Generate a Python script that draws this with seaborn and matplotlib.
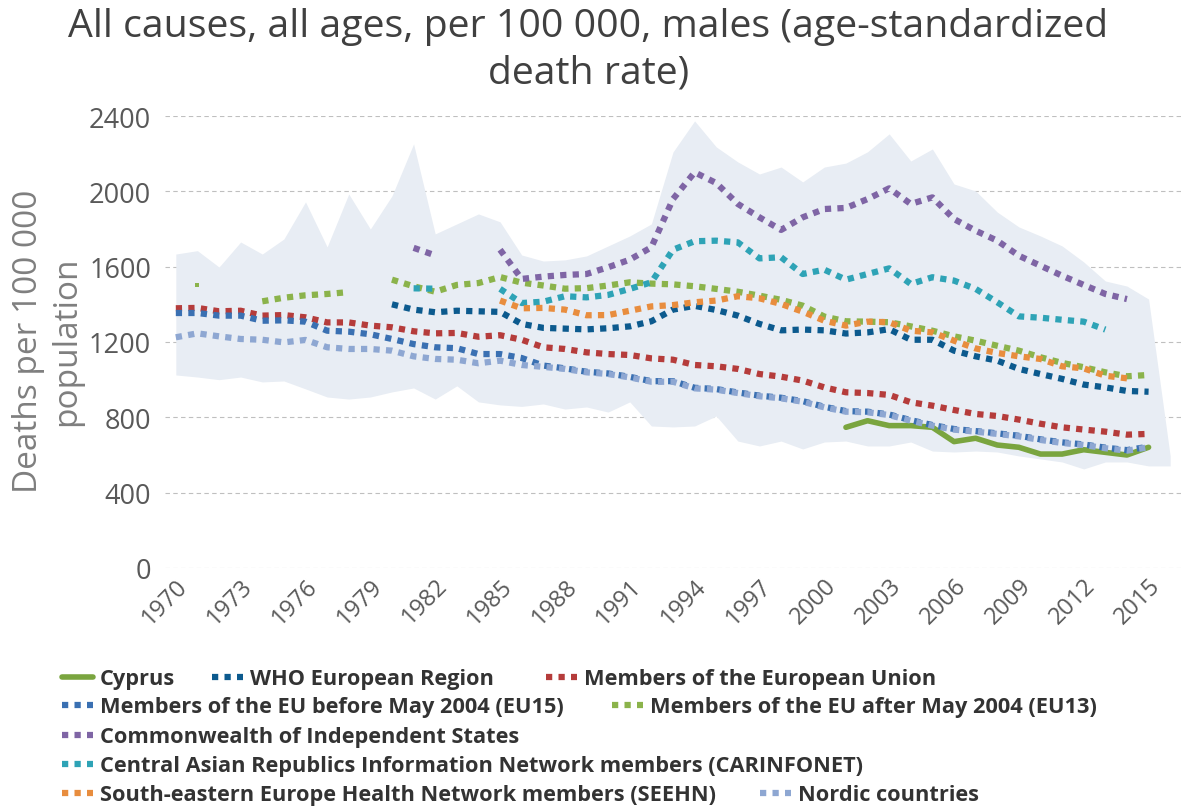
import numpy as np
import pandas as pd
import seaborn as sns
import matplotlib.pyplot as plt
from matplotlib.lines import Line2D

# Data

years = list(range(1970, 2017))

band_hi = [1667, 1685, 1598, 1731, 1667, 1747, 1944, 1705, 1986, 1800,
           1976, 2252, 1774, 1827, 1880, 1838, 1662, 1630, 1636, 1657,
           1710, 1763, 1827, 2209, 2374, 2236, 2156, 2092, 2129, 2050,
           2129, 2150, 2210, 2305, 2161, 2225, 2039, 2002, 1890, 1811,
           1763, 1710, 1625, 1524, 1497, 1428, 595]
band_lo = [1025, 1014, 1000, 1014, 988, 993, 951, 908, 897, 908,
           935, 956, 897, 967, 882, 866, 858, 871, 844, 855,
           828, 882, 754, 749, 754, 807, 674, 648, 674, 632,
           669, 674, 648, 648, 669, 621, 616, 621, 616, 595,
           579, 563, 526, 563, 563, 542, 542]

N = None
cyprus = [N] * 31 + [747, 782, 756, 756, 747, 671, 689, 653, 641, 605,
                     605, 628, 614, 600, 641, N]
who_europe = [N] * 10 + [1400, 1372, 1358, 1366, 1363, 1360, 1296, 1275, 1271, 1267,
                         1273, 1283, 1310, 1372, 1392, 1370, 1340, 1296, 1262, 1266,
                         1262, 1245, 1251, 1268, 1212, 1212, 1154, 1124, 1101, 1057,
                         1030, 1004, 974, 959, 940, 936, N]
eu = [1379, 1381, 1363, 1366, 1340, 1343, 1331, 1304, 1304, 1287,
      1278, 1257, 1246, 1248, 1228, 1236, 1212, 1172, 1163, 1145,
      1136, 1131, 1113, 1106, 1078, 1071, 1057, 1030, 1016, 995,
      959, 933, 929, 919, 880, 862, 839, 818, 807, 788,
      766, 747, 735, 724, 708, 712, N]
eu15 = [1354, 1354, 1340, 1340, 1313, 1315, 1308, 1260, 1255, 1241,
        1216, 1189, 1172, 1167, 1136, 1136, 1115, 1075, 1060, 1042,
        1033, 1015, 992, 992, 957, 950, 932, 915, 904, 886,
        856, 833, 830, 815, 785, 759, 738, 727, 715, 702,
        683, 667, 656, 639, 626, 644, N]
eu13 = [N, 1505, N, N, 1416, 1435, 1448, 1455, 1465, N,
        1531, 1496, 1467, 1503, 1513, 1545, 1515, 1500, 1483, 1486,
        1500, 1517, 1510, 1506, 1496, 1482, 1467, 1446, 1424, 1393,
        1335, 1310, 1308, 1305, 1283, 1260, 1230, 1207, 1180, 1154,
        1119, 1089, 1066, 1039, 1018, 1025, N]
cis = [N] * 11 + [1700, 1660, N, N, 1690, 1535, 1547, 1556, 1561,
                  1597, 1637, 1703, 1959, 2101, 2044, 1933, 1862, 1795, 1862,
                  1906, 1912, 1959, 2016, 1933, 1968, 1853, 1791, 1738, 1658,
                  1605, 1552, 1503, 1455, 1428, N, N]
carinfonet = [N] * 11 + [1485, 1483, N, N, 1482, 1407, 1414, 1443, 1437,
                         1450, 1482, 1517, 1690, 1735, 1738, 1729, 1644, 1650, 1561,
                         1584, 1531, 1561, 1591, 1508, 1544, 1526, 1482, 1411, 1336,
                         1329, 1318, 1308, 1266, N, N, N]
seehn = [N] * 15 + [1420, 1379, 1381, 1372, 1342,
                    1343, 1366, 1389, 1396, 1411, 1420, 1443, 1432, 1402, 1361,
                    1313, 1287, 1308, 1305, 1260, 1251, 1207, 1166, 1142, 1124,
                    1110, 1071, 1060, 1021, 1007, N, N]
nordic = [1225, 1246, 1230, 1216, 1212, 1198, 1211, 1172, 1163, 1163,
          1154, 1124, 1110, 1106, 1087, 1101, 1078, 1068, 1057, 1039,
          1030, 1012, 989, 989, 954, 947, 929, 912, 901, 883,
          853, 830, 827, 812, 782, 756, 735, 724, 712, 699,
          680, 664, 653, 636, 623, 641, N]

series_names = ["Cyprus", "WHO European Region", "Members of the European Union",
                "Members of the EU before May 2004 (EU15)",
                "Members of the EU after May 2004 (EU13)",
                "Commonwealth of Independent States",
                "Central Asian Republics Information Network members (CARINFONET)",
                "South-eastern Europe Health Network members (SEEHN)",
                "Nordic countries"]
series_values = [cyprus, who_europe, eu, eu15, eu13, cis, carinfonet, seehn, nordic]
series_colors = ["#7aa53f", "#0c5a8e", "#b53c3b", "#3a70b2", "#8bb34b",
                 "#7f65a5", "#2ea3b6", "#e88d3e", "#8ea7d2"]


# Long table: one row per point, with a segment id so gaps stay open

rows = []
for name, vals in zip(series_names, series_values):
    seg = 0
    for yr, v in zip(years, vals):
        if v is None:
            seg += 1
            continue
        rows.append({"series": name, "year": yr, "rate": v, "seg": seg})
df = pd.DataFrame(rows)
df["seg_size"] = df.groupby(["series", "seg"])["rate"].transform("size")

band = pd.DataFrame({"year": years, "hi": band_hi, "lo": band_lo})


# Plot

sns.set_theme(style="white")
plt.rcParams["font.family"] = ["Open Sans", "DejaVu Sans"]

fig = plt.figure(figsize=(11.84, 8.12), dpi=100)
ax = fig.add_axes([165 / 1184, 1 - 569 / 812, (1181 - 165) / 1184, (569 - 117) / 812])

ax.fill_between(band["year"], band["lo"], band["hi"], color="#e8edf4", lw=0, zorder=1)

for i, (name, color) in enumerate(zip(series_names, series_colors)):
    d = df[df["series"] == name]
    lines = d[d["seg_size"] > 1]
    dots = d[d["seg_size"] == 1]
    if name == "Cyprus":
        sns.lineplot(data=lines, x="year", y="rate", units="seg", estimator=None,
                     color=color, lw=4, ax=ax, legend=False, zorder=3 + i,
                     solid_capstyle="round")
    else:
        sns.lineplot(data=lines, x="year", y="rate", units="seg", estimator=None,
                     color=color, lw=4.5, linestyle=(0, (1, 1)), ax=ax,
                     legend=False, zorder=3 + i)
    if len(dots):
        sns.scatterplot(data=dots, x="year", y="rate", color=color, marker="s",
                        s=12, linewidth=0, ax=ax, legend=False, zorder=3 + i)

ax.set_xlim(1969.5, 2016.5)
ax.set_ylim(0, 2400)
ax.set_yticks(range(0, 2401, 400))
ax.set_xticks(range(1970, 2016, 3))
ax.tick_params(axis="y", labelsize=19.5, colors="#595959", length=0, pad=10)
ax.tick_params(axis="x", labelsize=17, colors="#595959", length=0, pad=4,
               labelrotation=45)
for lab in ax.get_xticklabels():
    lab.set_ha("right")
    lab.set_rotation_mode("anchor")
ax.grid(axis="y", color="#bfbfbf", lw=0.8, ls=(0, (4, 3)))
for s in ax.spines.values():
    s.set_visible(False)
ax.set_xlabel("")
ax.set_ylabel("")

fig.text(0.497, 0.99, "All causes, all ages, per 100 000, males (age-standardized\ndeath rate)",
         ha="center", va="top", fontsize=28.3, color="#404040", linespacing=1.3)
fig.text(0.04, 0.58, "Deaths per 100 000\npopulation", rotation=90, ha="center",
         va="center", fontsize=24, color="#7f7f7f", linespacing=1.2)


# Legend, laid out in rows like the original

legend_rows = [[0, 1, 2], [3, 4], [5], [6], [7, 8]]
legend_x = [[62, 212, 546], [62, 612], [62], [62], [62, 760]]
legend_y = [680, 708, 738, 767, 796]
for idxs, xs, y in zip(legend_rows, legend_x, legend_y):
    for i, x in zip(idxs, xs):
        if i == 0:
            h = Line2D([], [], color=series_colors[i], lw=4)
        else:
            h = Line2D([], [], color=series_colors[i], lw=4.5, linestyle=(0, (1, 1)))
        fig.legend([h], [series_names[i]], loc="center left",
                   bbox_to_anchor=(x / 1184, 1 - y / 812), frameon=False,
                   handlelength=1.4, handletextpad=0.35, borderpad=0,
                   borderaxespad=0, prop={"size": 15.7, "weight": "bold"},
                   labelcolor="#333333")

fig.savefig("out.png", dpi=100)
